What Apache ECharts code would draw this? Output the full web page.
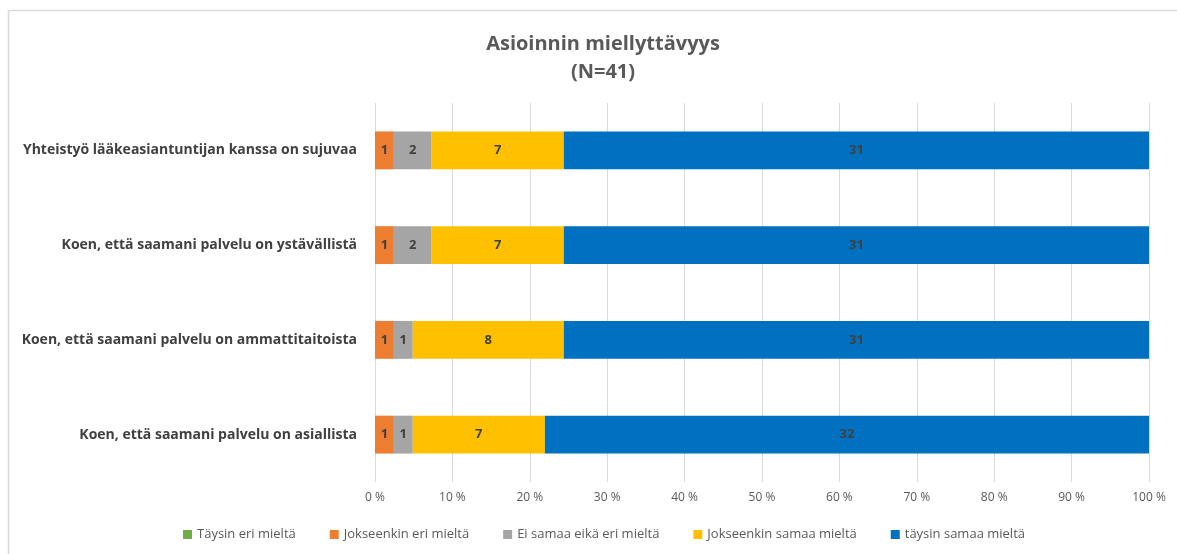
<!DOCTYPE html>
<html>
<head>
<meta charset="utf-8">
<script src="https://cdn.jsdelivr.net/npm/echarts@6/dist/echarts.min.js"></script>
<style>
  html, body { margin: 0; padding: 0; background: #ffffff; }
  #chart { width: 1177px; height: 554px; }
</style>
</head>
<body>
<div id="chart"></div>
<script>
// Survey statements, top to bottom
const categories = [
  'Yhteistyö lääkeasiantuntijan kanssa on sujuvaa',
  'Koen, että saamani palvelu on ystävällistä',
  'Koen, että saamani palvelu on ammattitaitoista',
  'Koen, että saamani palvelu on asiallista'
];

// Answer counts per statement (N = 41)
const taysinEri = [0, 0, 0, 0];
const jokseenkinEri = [1, 1, 1, 1];
const eiSamaaEikaEri = [2, 2, 1, 1];
const jokseenkinSamaa = [7, 7, 8, 7];
const taysinSamaa = [31, 31, 31, 32];

const seriesNames = [
  'Täysin eri mieltä',
  'Jokseenkin eri mieltä',
  'Ei samaa eikä eri mieltä',
  'Jokseenkin samaa mieltä',
  'täysin samaa mieltä'
];
const seriesCounts = [taysinEri, jokseenkinEri, eiSamaaEikaEri, jokseenkinSamaa, taysinSamaa];
const seriesColors = ['#70AD47', '#ED7D31', '#A5A5A5', '#FFC000', '#0070C0'];

const xTicks = [0, 10, 20, 30, 40, 50, 60, 70, 80, 90, 100];

const totals = categories.map((_, i) => seriesCounts.reduce((s, arr) => s + arr[i], 0));

const FONT = 'Open Sans';

const series = seriesNames.map((name, k) => ({
  name: name,
  type: 'bar',
  stack: 'all',
  barWidth: '40%',
  itemStyle: { color: seriesColors[k] },
  data: seriesCounts[k].map((c, i) => ({ value: c / totals[i] * 100, count: c })),
  label: {
    show: true,
    position: 'inside',
    color: '#404040',
    fontFamily: FONT,
    fontWeight: 'bold',
    fontSize: 13,
    formatter: p => (p.data.count > 0 ? String(p.data.count) : '')
  }
}));

const chart = echarts.init(document.getElementById('chart'), null, { renderer: 'canvas' });
chart.setOption({
  animation: false,
  backgroundColor: '#ffffff',
  graphic: [{
    type: 'rect',
    shape: { x: 8.5, y: 10.5, width: 1200, height: 600 },
    style: { fill: 'none', stroke: '#d9d9d9', lineWidth: 1.5 },
    silent: true
  }],
  title: {
    text: 'Asioinnin miellyttävyys\n(N=41)',
    top: 25,
    left: 598,
    textAlign: 'center',
    textStyle: {
      fontFamily: FONT,
      fontWeight: 'bold',
      fontSize: 20,
      color: '#595959',
      lineHeight: 28
    }
  },
  legend: {
    bottom: 8,
    left: 178,
    itemWidth: 9,
    itemHeight: 9,
    itemGap: 34,
    icon: 'rect',
    textStyle: { fontFamily: FONT, fontSize: 13, color: '#595959' },
    data: seriesNames
  },
  grid: { left: 375, right: 28, top: 103, bottom: 72, containLabel: false },
  xAxis: {
    type: 'value',
    min: 0,
    max: 100,
    interval: 10,
    axisLine: { show: false },
    axisTick: { show: false },
    splitLine: { show: true, lineStyle: { color: '#d9d9d9', width: 1 } },
    axisLabel: {
      color: '#595959',
      fontFamily: FONT,
      fontSize: 12,
      margin: 10,
      formatter: v => (xTicks.includes(v) ? v + ' %' : '')
    }
  },
  yAxis: {
    type: 'category',
    inverse: true,
    data: categories,
    axisLine: { show: false },
    axisTick: { show: false },
    splitLine: { show: false },
    axisLabel: {
      color: '#404040',
      fontFamily: FONT,
      fontWeight: 'bold',
      fontSize: 14,
      margin: 18
    }
  },
  series: series
});
</script>
</body>
</html>
